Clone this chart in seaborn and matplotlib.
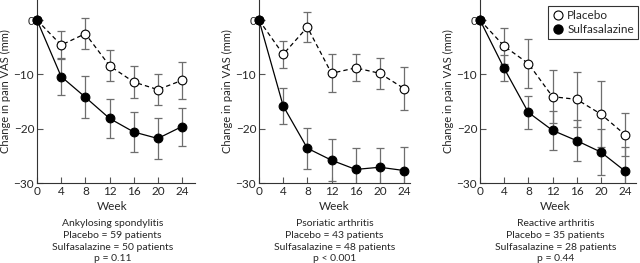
import numpy as np
import pandas as pd
import matplotlib
matplotlib.use("Agg")
import matplotlib.pyplot as plt
import seaborn as sns
from matplotlib.lines import Line2D

sns.set_style("ticks")
plt.rcParams['font.family'] = ['Lato', 'DejaVu Sans']

weeks = [0, 4, 8, 12, 16, 20, 24]

# Ankylosing spondylitis
as_placebo = [0, -4.6, -2.5, -8.4, -11.4, -12.8, -11.1]
as_placebo_err = [0, 2.6, 2.9, 2.9, 2.9, 2.8, 3.4]
as_sulfa = [0, -10.4, -14.2, -18.1, -20.6, -21.8, -19.6]
as_sulfa_err = [0, 3.4, 3.9, 3.6, 3.6, 3.7, 3.5]

# Psoriatic arthritis
ps_placebo = [0, -6.3, -1.3, -9.8, -8.8, -9.8, -12.6]
ps_placebo_err = [0, 2.5, 2.8, 3.5, 2.5, 2.9, 4.0]
ps_sulfa = [0, -15.8, -23.6, -25.8, -27.5, -27.1, -27.7]
ps_sulfa_err = [0, 3.3, 3.8, 3.9, 3.9, 3.6, 4.4]

# Reactive arthritis
re_placebo = [0, -4.8, -8.0, -14.1, -14.6, -17.3, -21.1]
re_placebo_err = [0, 3.3, 4.5, 4.9, 5.0, 6.0, 4.0]
re_sulfa = [0, -8.9, -17.0, -20.3, -22.2, -24.3, -27.8]
re_sulfa_err = [0, 2.4, 3.1, 3.6, 3.8, 4.2, 4.4]

captions = [
    ["Ankylosing spondylitis", "Placebo = 59 patients", "Sulfasalazine = 50 patients", "p = 0.11"],
    ["Psoriatic arthritis", "Placebo = 43 patients", "Sulfasalazine = 48 patients", "p < 0.001"],
    ["Reactive arthritis", "Placebo = 35 patients", "Sulfasalazine = 28 patients", "p = 0.44"],
]
panels = [
    (as_placebo, as_placebo_err, as_sulfa, as_sulfa_err),
    (ps_placebo, ps_placebo_err, ps_sulfa, ps_sulfa_err),
    (re_placebo, re_placebo_err, re_sulfa, re_sulfa_err),
]

W, H = 640, 263
fig = plt.figure(figsize=(W / 100, H / 100), dpi=100)

boxes = [(37, 195), (259, 410), (480, 636)]
top_px, bottom_px = 0, 183
ymin, ymax = -30, 3.7
px_per_week = 145 / 24

for i, ((pl, ple, su, sue), (lft, rgt), cap) in enumerate(zip(panels, boxes, captions)):
    ax = fig.add_axes([lft / W, 1 - bottom_px / H, (rgt - lft) / W, (bottom_px - top_px) / H])
    df = pd.DataFrame({
        "Week": weeks * 2,
        "Change": pl + su,
        "Group": ["Placebo"] * len(weeks) + ["Sulfasalazine"] * len(weeks),
    })
    ax.errorbar(weeks, pl, yerr=ple, fmt="none", ecolor="#6e6e6e", elinewidth=0.9,
                capsize=2.8, capthick=0.9, zorder=1, clip_on=True)
    ax.errorbar(weeks, su, yerr=sue, fmt="none", ecolor="#6e6e6e", elinewidth=0.9,
                capsize=2.8, capthick=0.9, zorder=1, clip_on=True)
    sns.lineplot(data=df[df.Group == "Placebo"], x="Week", y="Change", ax=ax,
                 color="black", linewidth=0.9, linestyle=(0, (3.5, 2.5)),
                 marker="o", markersize=6.3, markerfacecolor="white",
                 markeredgecolor="black", markeredgewidth=0.8, zorder=3, clip_on=False)
    sns.lineplot(data=df[df.Group == "Sulfasalazine"], x="Week", y="Change", ax=ax,
                 color="black", linewidth=0.9, linestyle="-",
                 marker="o", markersize=6.3, markerfacecolor="black",
                 markeredgecolor="black", markeredgewidth=0.8, zorder=4, clip_on=False)
    ax.set_xlim(0, (rgt - lft) / px_per_week)
    ax.set_ylim(ymin, ymax)
    ax.set_xticks(weeks)
    ax.set_yticks([0, -10, -20, -30])
    ax.tick_params(direction="in", length=4, width=0.8, labelsize=8.5, pad=2,
                   color="#555555")
    ax.set_xlabel("")
    ax.set_ylabel("Change in pain VAS (mm)", fontsize=8, labelpad=2)
    sns.despine(ax=ax)
    for s in ("left", "bottom"):
        ax.spines[s].set_linewidth(0.8)
        ax.spines[s].set_color("#333333")
    ax.set_facecolor("none")
    if ax.get_legend() is not None:
        ax.get_legend().remove()

    cx = (lft + lft + 145) / 2 + 3
    fig.text(cx / W, 1 - 207 / H, "Week", ha="center", va="center", fontsize=8.5)
    for j, line in enumerate(cap):
        fig.text(cx / W, 1 - (224 + j * 11.5) / H, line, ha="center", va="center", fontsize=7.5)

    if i == 2:
        handles = [
            Line2D([], [], linestyle="none", marker="o", markersize=6.5,
                   markerfacecolor="white", markeredgecolor="black", markeredgewidth=0.8),
            Line2D([], [], linestyle="none", marker="o", markersize=6.5,
                   markerfacecolor="black", markeredgecolor="black"),
        ]
        leg = ax.legend(handles, ["Placebo", "Sulfasalazine"], loc="upper right",
                        frameon=True, fancybox=False, fontsize=8.5, handletextpad=0.3,
                        handlelength=1.0, borderpad=0.35, labelspacing=0.25,
                        borderaxespad=0.0)
        leg.get_frame().set_edgecolor("black")
        leg.get_frame().set_linewidth(0.8)
        leg.set_bbox_to_anchor((638 / W, 1 - 6 / H), transform=fig.transFigure)

fig.savefig("out.png", dpi=100)
